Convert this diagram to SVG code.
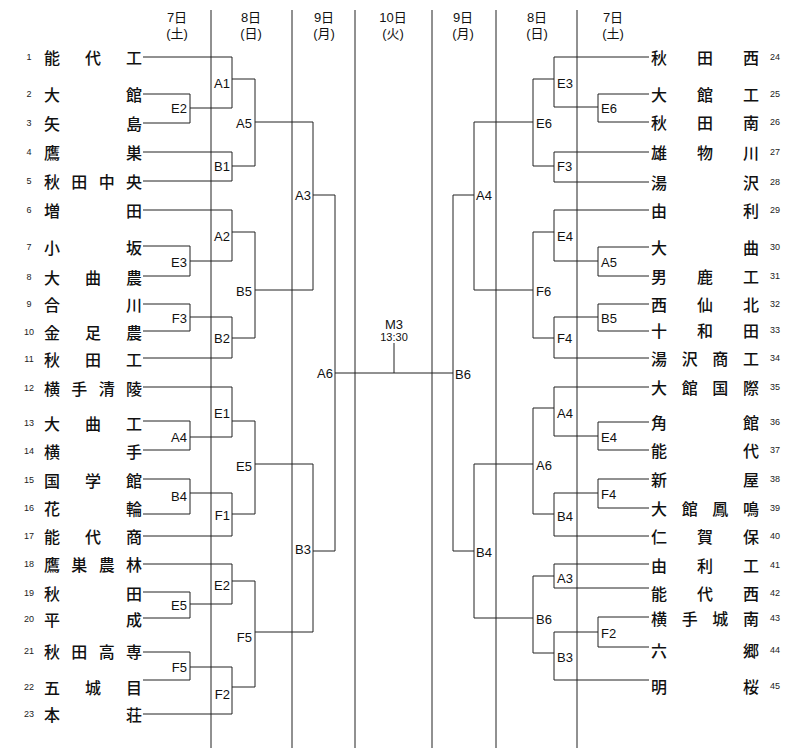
<svg xmlns="http://www.w3.org/2000/svg" width="800" height="753" viewBox="0 0 800 753">
<style>
.bg{fill:#fff}
.col{stroke:#222;stroke-width:1;fill:none}
.ln{stroke:#222;stroke-width:1;fill:none}
.hd{font-family:"Liberation Sans","Noto Sans CJK JP",sans-serif;font-size:13px;fill:#111;text-anchor:middle;dominant-baseline:central}
.nm{font-family:"Noto Sans CJK JP",sans-serif;font-size:16px;font-weight:500;fill:#111;dominant-baseline:central}
.no{font-family:"Liberation Sans",sans-serif;font-size:9px;fill:#222;dominant-baseline:central}
.nl{text-anchor:middle}
.lb{font-family:"Liberation Sans",sans-serif;font-size:13px;fill:#111;dominant-baseline:central}
.le{text-anchor:end}
.m{font-family:"Liberation Sans",sans-serif;fill:#111;text-anchor:middle;dominant-baseline:central}
</style>
<rect class="bg" x="0" y="0" width="800" height="753"/>
<g id="columns">
<path class="col" d="M211 10V748M292 10V748M355 10V748M432 10V748M496 10V748M577 10V748"/>
</g>
<g id="headers">
<text class="hd" x="177" y="17">7日</text><text class="hd" x="177" y="33">(土)</text>
<text class="hd" x="251" y="17">8日</text><text class="hd" x="251" y="33">(日)</text>
<text class="hd" x="324" y="17">9日</text><text class="hd" x="324" y="33">(月)</text>
<text class="hd" x="393" y="17">10日</text><text class="hd" x="393" y="33">(火)</text>
<text class="hd" x="463" y="17">9日</text><text class="hd" x="463" y="33">(月)</text>
<text class="hd" x="537" y="17">8日</text><text class="hd" x="537" y="33">(日)</text>
<text class="hd" x="613" y="17">7日</text><text class="hd" x="613" y="33">(土)</text>
</g>
<g id="connectors">
<path class="ln" d="M143 57H232M143 94H190M143 123H190M143 152H232M143 181H232M143 210H232M143 246H190M143 276H190M143 304H190M143 331H190M143 358H232M143 387H232M143 421H190M143 450H190M143 479H190M143 514H190M143 536H232M143 564H232M143 592H190M143 618H190M143 652H190M143 680H190M143 714H232"/>
<path class="ln" d="M190 94V123M190 108H232M190 246V276M190 261H232M190 304V331M190 317H232M190 421V450M190 437H232M190 479V514M190 493H232M190 592V618M190 604H232M190 652V680M190 667H232"/>
<path class="ln" d="M232 57V108M232 79H255M232 152V181M232 166H255M232 210V261M232 232H255M232 317V358M232 338H255M232 387V437M232 421H255M232 493V536M232 514H255M232 564V604M232 581H255M232 667V714M232 687H255"/>
<path class="ln" d="M255 79V166M255 122H313M255 232V338M255 290H313M255 421V514M255 464H313M255 581V687M255 632H313"/>
<path class="ln" d="M313 122V290M313 195H335M313 464V632M313 551H335M335 195V551M335 373H453M394 343V373"/>
<path class="ln" d="M649 57H554M649 94H598M649 122H598M649 152H554M649 182H554M649 210H554M649 247H598M649 276H598M649 304H598M649 331H598M649 358H554M649 387H554M649 422H598M649 450H598M649 479H598M649 508H598M649 536H554M649 564H554M649 588H554M649 617H598M649 647H598M649 680H554"/>
<path class="ln" d="M598 94V122M598 107H554M598 247V276M598 261H554M598 304V331M598 317H554M598 422V450M598 436H554M598 479V508M598 493H554M598 617V647M598 632H554"/>
<path class="ln" d="M554 57V107M554 79H533M554 152V182M554 166H533M554 210V261M554 232H533M554 317V358M554 338H533M554 387V436M554 408H533M554 493V536M554 514H533M554 564V588M554 576H533M554 632V680M554 653H533"/>
<path class="ln" d="M533 79V166M533 122H474M533 232V338M533 290H474M533 408V514M533 464H474M533 576V653M533 618H474"/>
<path class="ln" d="M474 122V290M474 195H453M474 464V618M474 551H453M453 195V551"/>
</g>
<g id="teams-left">
<g id="t1"><text class="no nl" x="29" y="57">1</text><text class="nm" x="44 85 126" y="57">能代工</text></g>
<g id="t2"><text class="no nl" x="29" y="94">2</text><text class="nm" x="44 126" y="94">大館</text></g>
<g id="t3"><text class="no nl" x="29" y="123">3</text><text class="nm" x="44 126" y="123">矢島</text></g>
<g id="t4"><text class="no nl" x="29" y="152">4</text><text class="nm" x="44 126" y="152">鷹巣</text></g>
<g id="t5"><text class="no nl" x="29" y="181">5</text><text class="nm" x="44 71.3 98.7 126" y="181">秋田中央</text></g>
<g id="t6"><text class="no nl" x="29" y="210">6</text><text class="nm" x="44 126" y="210">増田</text></g>
<g id="t7"><text class="no nl" x="29" y="247">7</text><text class="nm" x="44 126" y="247">小坂</text></g>
<g id="t8"><text class="no nl" x="29" y="277">8</text><text class="nm" x="44 85 126" y="277">大曲農</text></g>
<g id="t9"><text class="no nl" x="29" y="304">9</text><text class="nm" x="44 126" y="304">合川</text></g>
<g id="t10"><text class="no nl" x="29" y="332">10</text><text class="nm" x="44 85 126" y="332">金足農</text></g>
<g id="t11"><text class="no nl" x="29" y="359">11</text><text class="nm" x="44 85 126" y="359">秋田工</text></g>
<g id="t12"><text class="no nl" x="29" y="388">12</text><text class="nm" x="44 71.3 98.7 126" y="388">横手清陵</text></g>
<g id="t13"><text class="no nl" x="29" y="423">13</text><text class="nm" x="44 85 126" y="423">大曲工</text></g>
<g id="t14"><text class="no nl" x="29" y="451">14</text><text class="nm" x="44 126" y="451">横手</text></g>
<g id="t15"><text class="no nl" x="29" y="480">15</text><text class="nm" x="44 85 126" y="480">国学館</text></g>
<g id="t16"><text class="no nl" x="29" y="508">16</text><text class="nm" x="44 126" y="508">花輪</text></g>
<g id="t17"><text class="no nl" x="29" y="536">17</text><text class="nm" x="44 85 126" y="536">能代商</text></g>
<g id="t18"><text class="no nl" x="29" y="564">18</text><text class="nm" x="44 71.3 98.7 126" y="564">鷹巣農林</text></g>
<g id="t19"><text class="no nl" x="29" y="593">19</text><text class="nm" x="44 126" y="593">秋田</text></g>
<g id="t20"><text class="no nl" x="29" y="619">20</text><text class="nm" x="44 126" y="619">平成</text></g>
<g id="t21"><text class="no nl" x="29" y="651">21</text><text class="nm" x="44 71.3 98.7 126" y="651">秋田高専</text></g>
<g id="t22"><text class="no nl" x="29" y="687">22</text><text class="nm" x="44 85 126" y="687">五城目</text></g>
<g id="t23"><text class="no nl" x="29" y="714">23</text><text class="nm" x="44 126" y="714">本荘</text></g>
</g>
<g id="teams-right">
<g id="t24"><text class="nm" x="651 697 743" y="57">秋田西</text><text class="no" x="770" y="57">24</text></g>
<g id="t25"><text class="nm" x="651 697 743" y="94">大館工</text><text class="no" x="770" y="94">25</text></g>
<g id="t26"><text class="nm" x="651 697 743" y="122">秋田南</text><text class="no" x="770" y="122">26</text></g>
<g id="t27"><text class="nm" x="651 697 743" y="152">雄物川</text><text class="no" x="770" y="152">27</text></g>
<g id="t28"><text class="nm" x="651 743" y="182">湯沢</text><text class="no" x="770" y="182">28</text></g>
<g id="t29"><text class="nm" x="651 743" y="210">由利</text><text class="no" x="770" y="210">29</text></g>
<g id="t30"><text class="nm" x="651 743" y="247">大曲</text><text class="no" x="770" y="247">30</text></g>
<g id="t31"><text class="nm" x="651 697 743" y="276">男鹿工</text><text class="no" x="770" y="276">31</text></g>
<g id="t32"><text class="nm" x="651 697 743" y="304">西仙北</text><text class="no" x="770" y="304">32</text></g>
<g id="t33"><text class="nm" x="651 697 743" y="330">十和田</text><text class="no" x="770" y="330">33</text></g>
<g id="t34"><text class="nm" x="651 681.7 712.3 743" y="358">湯沢商工</text><text class="no" x="770" y="358">34</text></g>
<g id="t35"><text class="nm" x="651 681.7 712.3 743" y="387">大館国際</text><text class="no" x="770" y="387">35</text></g>
<g id="t36"><text class="nm" x="651 743" y="422">角館</text><text class="no" x="770" y="422">36</text></g>
<g id="t37"><text class="nm" x="651 743" y="450">能代</text><text class="no" x="770" y="450">37</text></g>
<g id="t38"><text class="nm" x="651 743" y="479">新屋</text><text class="no" x="770" y="479">38</text></g>
<g id="t39"><text class="nm" x="651 681.7 712.3 743" y="508">大館鳳鳴</text><text class="no" x="770" y="508">39</text></g>
<g id="t40"><text class="nm" x="651 697 743" y="536">仁賀保</text><text class="no" x="770" y="536">40</text></g>
<g id="t41"><text class="nm" x="651 697 743" y="565">由利工</text><text class="no" x="770" y="565">41</text></g>
<g id="t42"><text class="nm" x="651 697 743" y="593">能代西</text><text class="no" x="770" y="593">42</text></g>
<g id="t43"><text class="nm" x="651 681.7 712.3 743" y="618">横手城南</text><text class="no" x="770" y="618">43</text></g>
<g id="t44"><text class="nm" x="651 743" y="650">六郷</text><text class="no" x="770" y="650">44</text></g>
<g id="t45"><text class="nm" x="651 743" y="686">明桜</text><text class="no" x="770" y="686">45</text></g>
</g>
<g id="matches-left">
<text class="lb le" x="187" y="108">E2</text>
<text class="lb le" x="187" y="262">E3</text>
<text class="lb le" x="187" y="318">F3</text>
<text class="lb le" x="187" y="437">A4</text>
<text class="lb le" x="187" y="496">B4</text>
<text class="lb le" x="187" y="605">E5</text>
<text class="lb le" x="187" y="667">F5</text>
<text class="lb le" x="230" y="83">A1</text>
<text class="lb le" x="230" y="166">B1</text>
<text class="lb le" x="230" y="236">A2</text>
<text class="lb le" x="230" y="338">B2</text>
<text class="lb le" x="230" y="413">E1</text>
<text class="lb le" x="230" y="515">F1</text>
<text class="lb le" x="230" y="585">E2</text>
<text class="lb le" x="230" y="694">F2</text>
<text class="lb le" x="252" y="123">A5</text>
<text class="lb le" x="252" y="291">B5</text>
<text class="lb le" x="252" y="466">E5</text>
<text class="lb le" x="252" y="637">F5</text>
<text class="lb le" x="311" y="195">A3</text>
<text class="lb le" x="311" y="549">B3</text>
<text class="lb le" x="333" y="373">A6</text>
</g>
<g id="matches-right">
<text class="lb" x="601" y="108">E6</text>
<text class="lb" x="601" y="262">A5</text>
<text class="lb" x="601" y="318">B5</text>
<text class="lb" x="601" y="437">E4</text>
<text class="lb" x="601" y="494">F4</text>
<text class="lb" x="601" y="633">F2</text>
<text class="lb" x="557" y="83">E3</text>
<text class="lb" x="557" y="166">F3</text>
<text class="lb" x="557" y="236">E4</text>
<text class="lb" x="557" y="338">F4</text>
<text class="lb" x="557" y="413">A4</text>
<text class="lb" x="557" y="516">B4</text>
<text class="lb" x="557" y="578">A3</text>
<text class="lb" x="557" y="657">B3</text>
<text class="lb" x="536" y="123">E6</text>
<text class="lb" x="536" y="291">F6</text>
<text class="lb" x="536" y="465">A6</text>
<text class="lb" x="536" y="619">B6</text>
<text class="lb" x="476" y="195">A4</text>
<text class="lb" x="476" y="552">B4</text>
<text class="lb" x="455" y="374">B6</text>
</g>
<g id="final">
<text class="m" x="394" y="324" font-size="13">M3</text>
<text class="m" x="394" y="337" font-size="11">13:30</text>
</g>
</svg>
